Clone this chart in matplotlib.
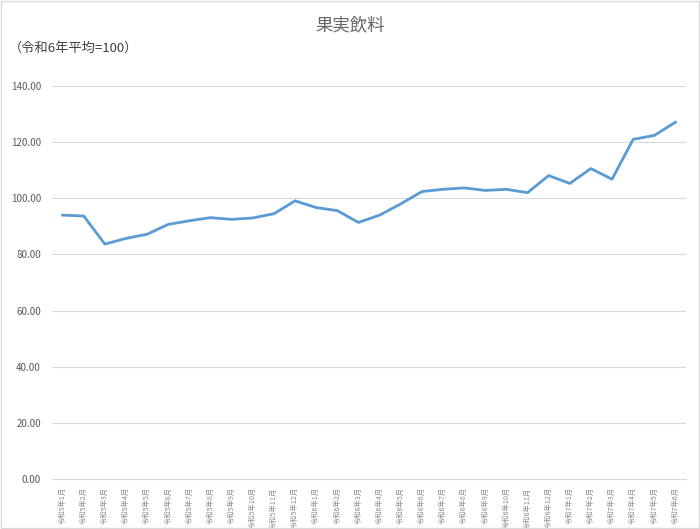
import matplotlib
matplotlib.use("Agg")
import matplotlib.pyplot as plt
from matplotlib.patches import Rectangle

plt.rcParams['font.family'] = ['Noto Sans CJK JP', 'DejaVu Sans']

title = "果実飲料"
subtitle = "（令和6年平均=100）"
months = ([f"令和5年{m}月" for m in range(1, 13)] +
          [f"令和6年{m}月" for m in range(1, 13)] +
          [f"令和7年{m}月" for m in range(1, 7)])
values = [94.0, 93.7, 83.7, 85.7, 87.2, 90.7, 92.0, 93.1, 92.5, 93.0, 94.5, 99.1,
          96.7, 95.6, 91.4, 94.0, 98.0, 102.4, 103.2, 103.7, 102.8, 103.2, 102.0, 108.1,
          105.3, 110.6, 106.8, 121.0, 122.4, 127.1]
yticks = [0, 20, 40, 60, 80, 100, 120, 140]

fig = plt.figure(figsize=(7.0, 5.29), dpi=100)
fig.patches.append(Rectangle((0.002, 0.002), 0.996, 0.996, transform=fig.transFigure,
                             fill=False, edgecolor='#D9D9D9', linewidth=1.0))
ax = fig.add_axes([0.0743, 0.0945, 0.9057, 0.7429])
x = list(range(len(values)))
ax.plot(x, values, color='#5B9BD5', linewidth=2.0, solid_joinstyle='round', zorder=3)
ax.set_xlim(-0.5, len(values) - 0.5)
ax.set_ylim(0, 140)
ax.set_yticks(yticks)
ax.set_yticklabels([f"{v:.2f}" for v in yticks], fontsize=7, color='#595959')
ax.set_xticks(x)
ax.set_xticklabels(months, rotation=90, fontsize=5.2, color='#8C8C8C')
ax.tick_params(axis='both', length=0)
ax.tick_params(axis='x', pad=6)
ax.tick_params(axis='y', pad=8)
ax.grid(axis='y', color='#D9D9D9', linewidth=0.8)
ax.set_axisbelow(True)
for s in ['top', 'right', 'left']:
    ax.spines[s].set_visible(False)
ax.spines['bottom'].set_color('#D9D9D9')
ax.spines['bottom'].set_linewidth(0.8)

fig.text(0.5, 0.953, title, ha='center', va='center', fontsize=12.5, color='#666666')
fig.text(0.012, 0.909, subtitle, ha='left', va='center', fontsize=9.5, color='#404040')

fig.savefig("out.png", dpi=100)
